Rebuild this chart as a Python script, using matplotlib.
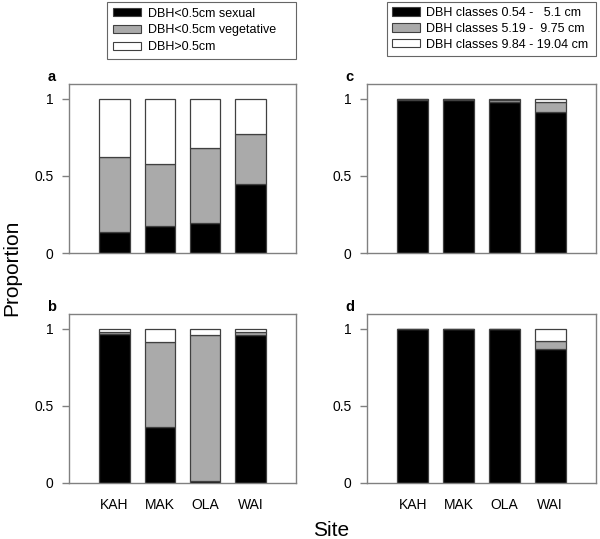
import matplotlib
matplotlib.use("Agg")
import matplotlib.pyplot as plt
from matplotlib.patches import Patch

plt.rcParams['font.family'] = ['Liberation Sans', 'DejaVu Sans']

sites = ['KAH', 'MAK', 'OLA', 'WAI']

# Panel a
a_sexual = [0.138, 0.177, 0.195, 0.446]
a_veg = [0.485, 0.399, 0.489, 0.327]
a_large = [0.377, 0.424, 0.316, 0.227]
# Panel b
b_sexual = [0.965, 0.366, 0.010, 0.963]
b_veg = [0.015, 0.551, 0.949, 0.017]
b_large = [0.020, 0.083, 0.041, 0.020]
# Panel c
c_small = [0.990, 0.995, 0.980, 0.918]
c_mid = [0.008, 0.004, 0.013, 0.062]
c_large = [0.002, 0.001, 0.007, 0.020]
# Panel d
d_small = [1.0, 1.0, 1.0, 0.869]
d_mid = [0.0, 0.0, 0.0, 0.050]
d_large = [0.0, 0.0, 0.0, 0.081]

legend1 = ['DBH<0.5cm sexual', 'DBH<0.5cm vegetative', 'DBH>0.5cm']
legend2 = ['DBH classes 0.54 -   5.1 cm', 'DBH classes 5.19 -  9.75 cm',
           'DBH classes 9.84 - 19.04 cm']
yticks = [0, 0.5, 1]
yticklabels = ['0', '0.5', '1']

colors = ['black', '#aaaaaa', 'white']
edge = '#404040'
spine = '#808080'

W, H = 600, 539
fig = plt.figure(figsize=(W / 100, H / 100), dpi=100)


def px_axes(l, t, r, b):
    return fig.add_axes([l / W, 1 - b / H, (r - l) / W, (b - t) / H])


def draw(ax, series, label, show_x):
    x = [1, 2, 3, 4]
    bottom = [0.0] * 4
    for vals, c in zip(series, colors):
        ax.bar(x, vals, width=0.67, bottom=bottom, color=c, edgecolor=edge,
               linewidth=0.9)
        bottom = [b + v for b, v in zip(bottom, vals)]
    ax.set_xlim(0, 5)
    ax.set_ylim(0, 1.097)
    ax.set_yticks(yticks)
    ax.set_yticklabels(yticklabels, fontsize=10)
    ax.set_xticks(x)
    if show_x:
        ax.set_xticklabels(sites, fontsize=10)
    else:
        ax.set_xticklabels([])
    ax.tick_params(axis='y', length=5, color=spine, width=1, pad=6)
    ax.tick_params(axis='x', length=0, pad=11)
    for s in ax.spines.values():
        s.set_color(spine)
        s.set_linewidth(1)
    ax.text(-0.057, 1.015, label, transform=ax.transAxes, fontsize=10.5,
            fontweight='bold', ha='right', va='baseline')


ax_a = px_axes(69, 84, 296, 253)
ax_b = px_axes(69, 314, 296, 483)
ax_c = px_axes(367, 84, 596, 253)
ax_d = px_axes(367, 314, 596, 483)

draw(ax_a, [a_sexual, a_veg, a_large], 'a', False)
draw(ax_b, [b_sexual, b_veg, b_large], 'b', True)
draw(ax_c, [c_small, c_mid, c_large], 'c', False)
draw(ax_d, [d_small, d_mid, d_large], 'd', True)

h = [Patch(facecolor=c, edgecolor=edge, linewidth=0.8) for c in colors]
leg1 = fig.legend(h, legend1, loc='upper left',
                  bbox_to_anchor=(107 / W, 1 - 58 / H, 189 / W, 56 / H),
                  mode='expand',
                  fontsize=9, frameon=True, fancybox=False, handlelength=2.3,
                  handleheight=0.65, labelspacing=0.38, borderpad=0.45,
                  handletextpad=0.55, borderaxespad=0)
leg1.get_frame().set_edgecolor('#404040')
leg1.get_frame().set_linewidth(0.8)
leg2 = fig.legend(h, legend2, loc='upper left',
                  bbox_to_anchor=(387 / W, 1 - 55 / H, 209 / W, 53 / H),
                  mode='expand',
                  fontsize=9, frameon=True, fancybox=False, handlelength=2.2,
                  handleheight=0.65, labelspacing=0.3, borderpad=0.4,
                  handletextpad=0.55, borderaxespad=0)
leg2.get_frame().set_edgecolor('#404040')
leg2.get_frame().set_linewidth(0.8)

fig.text(12 / W, 1 - 268 / H, 'Proportion', rotation=90, fontsize=15,
         ha='center', va='center')
fig.text(331 / W, 1 - 530 / H, 'Site', fontsize=15, ha='center', va='center')

fig.savefig('out.png', dpi=100)
